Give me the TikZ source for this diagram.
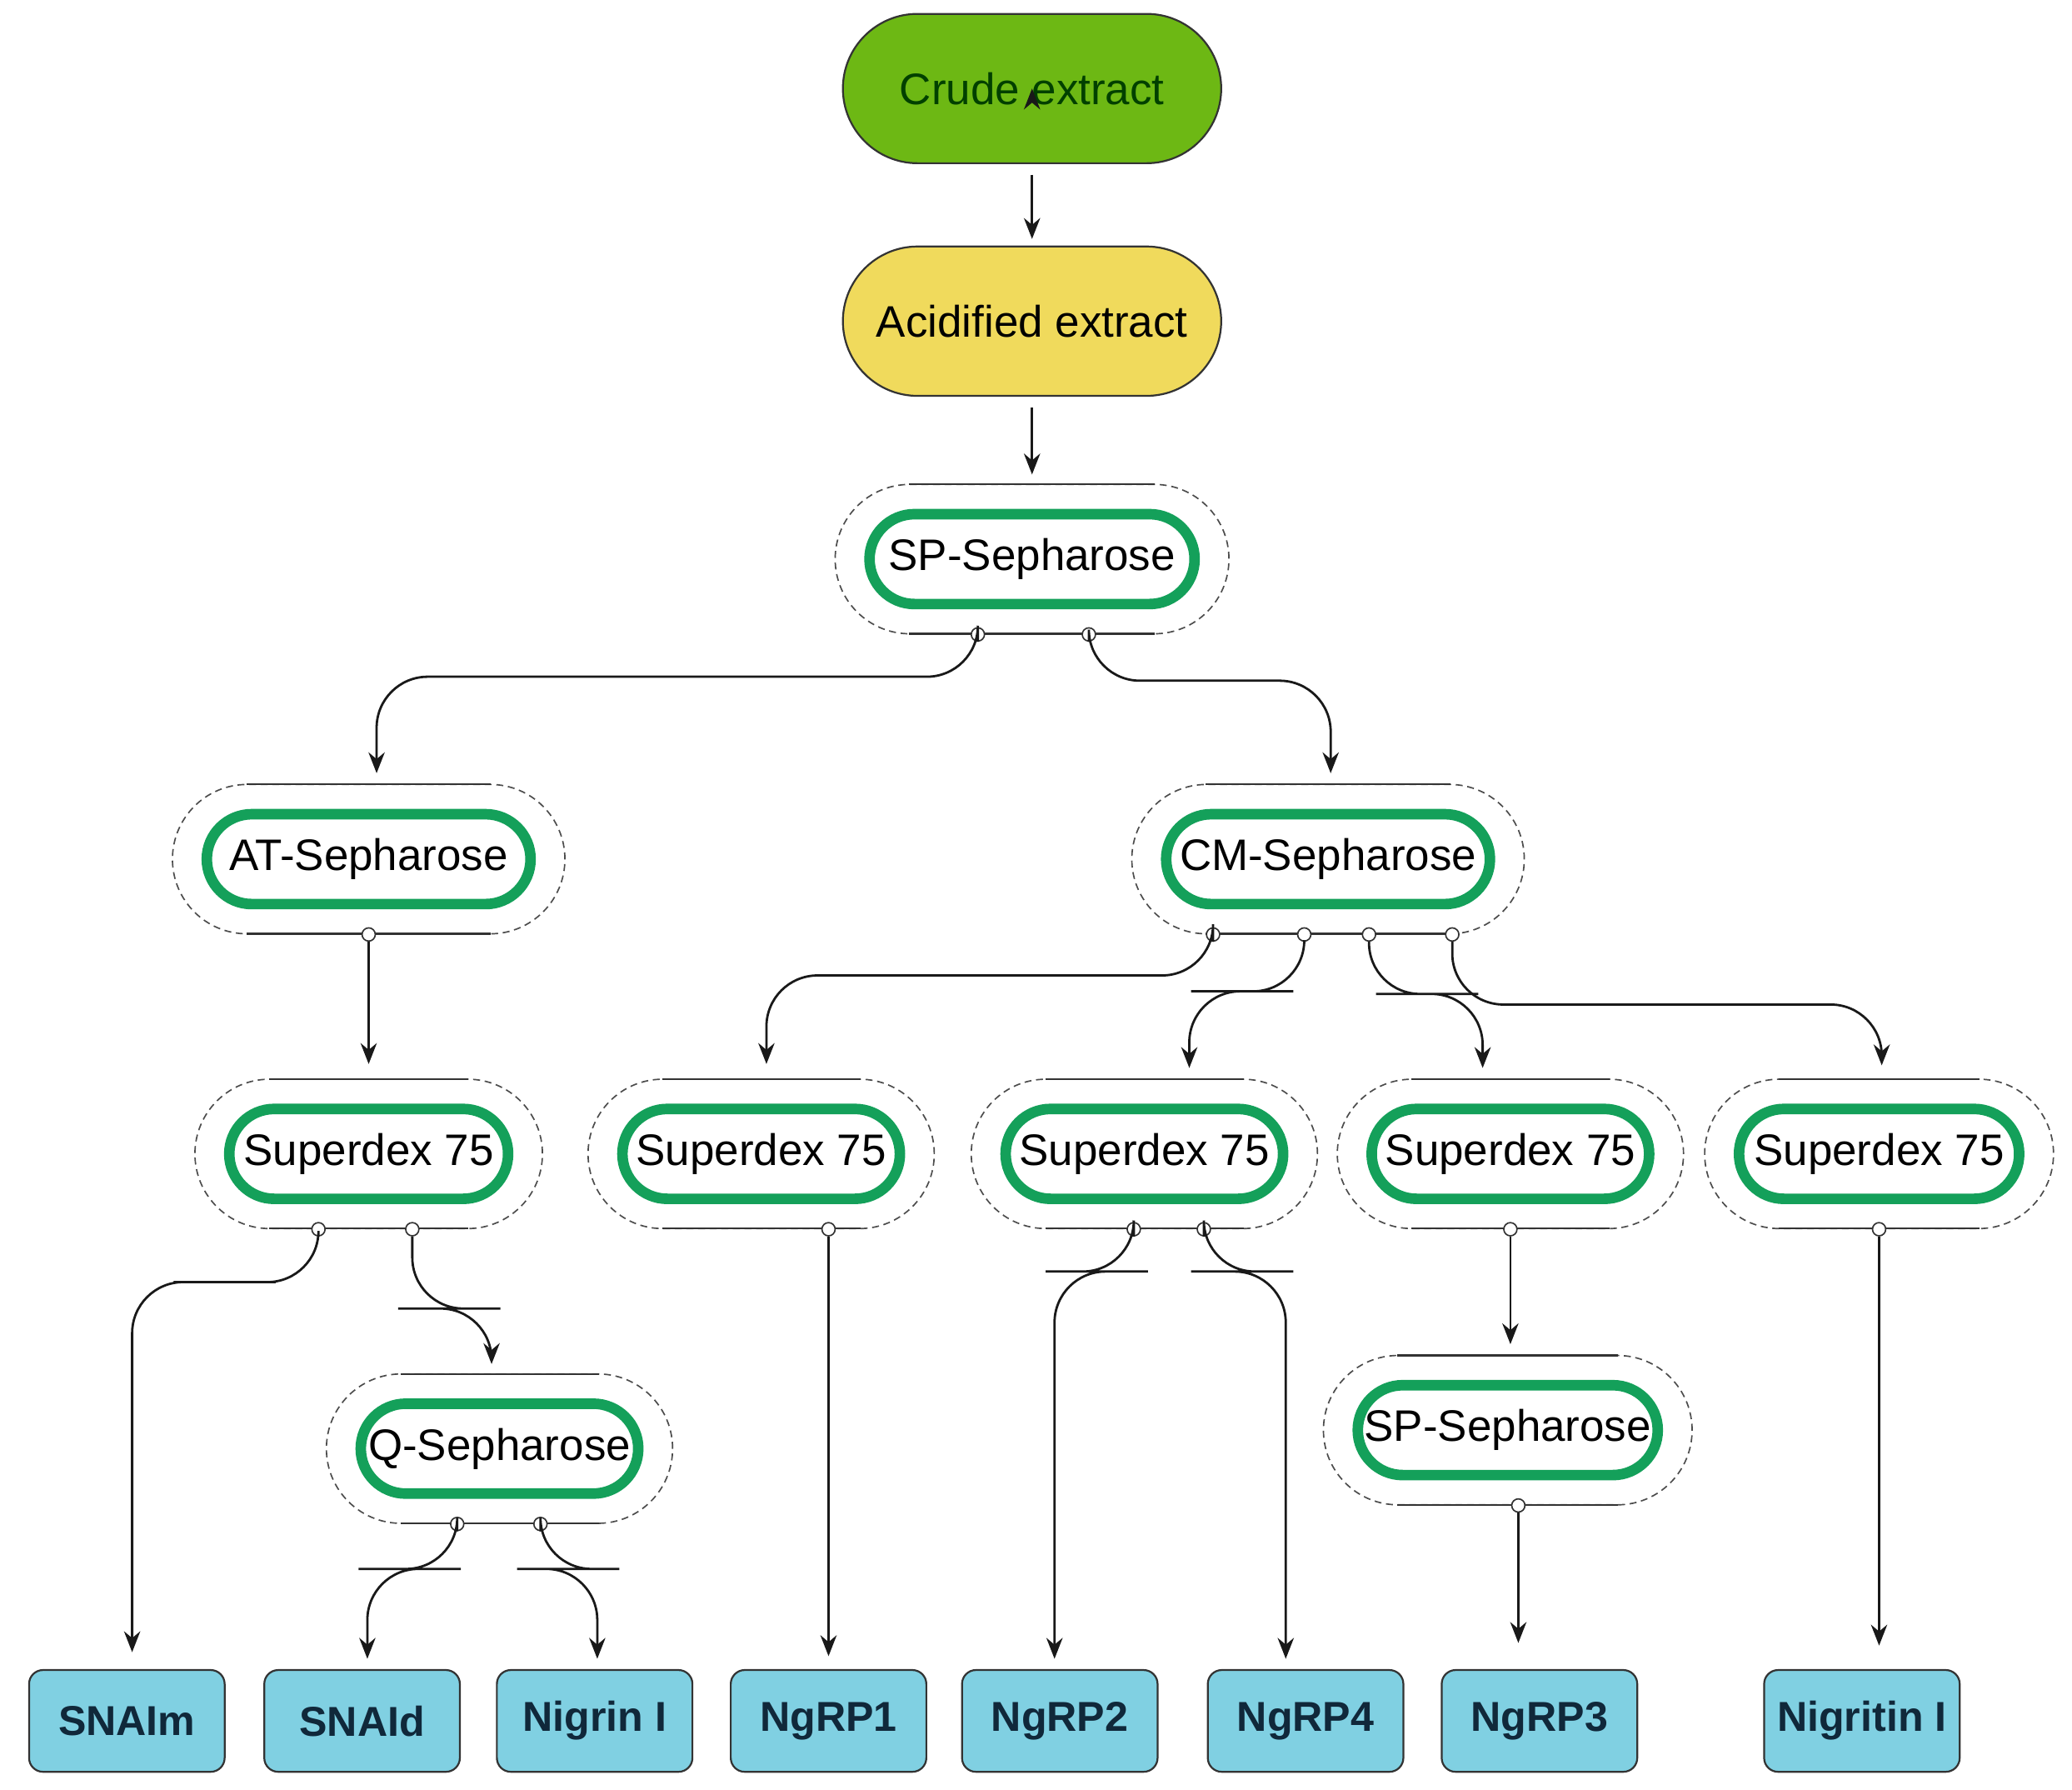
\documentclass[tikz,border=0pt]{standalone}
\usepackage{fontspec}
\setmainfont{Liberation Sans}
\usetikzlibrary{shapes.misc,arrows.meta}
\definecolor{crude}{HTML}{6DB814}
\definecolor{acid}{HTML}{F0DA5C}
\definecolor{ring}{HTML}{14A05A}
\definecolor{prod}{HTML}{80D0E2}
\definecolor{prodtxt}{HTML}{10283A}
\tikzset{
 top/.style={rounded rectangle,draw=black!80,line width=0.8pt,minimum width=298*0.02cm,minimum height=113*0.02cm,font=\fontsize{19}{21}\selectfont},
 outer/.style={rounded rectangle,draw=black!70,densely dashed,line width=0.6pt,minimum height=113*0.02cm,inner sep=0pt},
 inner/.style={rounded rectangle,draw=ring,line width=8*0.02cm,minimum height=68*0.02cm,inner sep=0pt,font=\fontsize{19}{21}\selectfont},
 port/.style={circle,draw=black!80,fill=white,line width=0.6pt,minimum size=10*0.02cm,inner sep=0pt},
 prodbox/.style={rectangle,rounded corners=6pt,draw=black!80,line width=0.8pt,fill=prod,minimum width=148*0.02cm,minimum height=77*0.02cm,font=\fontsize{18}{20}\selectfont\bfseries,text=prodtxt},
 arr/.style={-{Stealth[length=9pt,width=7pt]},line width=1pt,black!90,rounded corners=22pt},
}
\newcommand\colnode[5]{%
 \node[outer,minimum width=#5*0.02cm] (#1) at (#2,#3) {};
 \draw[line width=0.8pt,black!80] (#2-#5/2+56,#3-56.5) -- (#2+#5/2-56,#3-56.5) (#2-#5/2+56,#3+56.5) -- (#2+#5/2-56,#3+56.5);
 \node[inner,minimum width=(#5-52)*0.02cm] (#1i) at (#2,#3) {#4};}
\begin{document}
\begin{tikzpicture}[x=0.02cm,y=-0.02cm]
\useasboundingbox (0,0) rectangle (1568,1354);
\node[top,fill=crude,text=black!75!green] (crude) at (781,67) {Crude extract};
\node[top,fill=acid] (acid) at (781,243) {Acidified extract};
\colnode{sp}{781}{423}{SP-Sepharose}{298}
\colnode{at}{279}{650}{AT-Sepharose}{297}
\colnode{cm}{1005}{650}{CM-Sepharose}{297}
\colnode{sa}{279}{873}{Superdex 75}{263}
\colnode{sb}{576}{873}{Superdex 75}{262}
\colnode{sc}{866}{873}{Superdex 75}{262}
\colnode{sd}{1143}{873}{Superdex 75}{262}
\colnode{se}{1422}{873}{Superdex 75}{264}
\colnode{q}{378}{1096}{Q-Sepharose}{262}
\colnode{spb}{1141}{1082}{SP-Sepharose}{279}
% ports
\foreach \n/\x/\y in {p1/740/480,p2/824/480,p3/279/707,p4/918/707,p5/987/707,p6/1036/707,p7/1099/707,
 p8/241/930,p9/312/930,p10/627/930,p11/858/930,p12/911/930,p13/1143/930,p14/1422/930,
 p15/346/1153,p16/409/1153,p17/1149/1139}
 \node[port] (\n) at (\x,\y) {};
% products
\node[prodbox] (snaim) at (96,1302) {SNAIm};
\node[prodbox] (snaid) at (274,1302) {SNAId};
\node[prodbox] (nig) at (450,1302) {Nigrin I};
\node[prodbox] (ng1) at (627,1302) {NgRP1};
\node[prodbox] (ng2) at (802,1302) {NgRP2};
\node[prodbox] (ng4) at (988,1302) {NgRP4};
\node[prodbox] (ng3) at (1165,1302) {NgRP3};
\node[prodbox] (nit) at (1409,1302) {Nigritin I};
% targets (arrow end points)
\coordinate (t1) at (285,585); \coordinate (t2) at (1007,585);
\coordinate (t3) at (279,805); \coordinate (t4) at (580,805); \coordinate (t5) at (900,808);
\coordinate (t6) at (1122,808); \coordinate (t7) at (1424,806);
\coordinate (t8) at (100,1250); \coordinate (t9) at (372,1032); \coordinate (t10) at (627,1253);
\coordinate (t11) at (798,1255); \coordinate (t12) at (973,1255); \coordinate (t13) at (1143,1017);
\coordinate (t14) at (1422,1245); \coordinate (t15) at (278,1255); \coordinate (t16) at (452,1255);
\coordinate (t17) at (1149,1243);
\draw[arr] (crude.south) ++(0,8) coordinate (c0) (crude) ++(0,0);
\draw[arr] ([yshift=-0.16cm]crude.south) -- ([yshift=0.1cm]acid.north);
\draw[arr] ([yshift=-0.16cm]acid.south) -- ([yshift=0.14cm]sp.north);
\draw[arr] (p1.south) |- (500,512) -| (t1);
\draw[arr] (p2.south) |- (900,515) -| (t2);
\draw[arr] (p3.south) -- (t3);
\draw[arr] (p4.south) |- (700,738) -| (t4);
\draw[arr] (p5.south) |- (940,750) -| (t5);
\draw[arr] (p6.south) |- (1080,752) -| (t6);
\draw[arr] (p7.south) |- (1250,760) -| (t7);
\draw[arr] (p8.south) |- (170,970) -| (t8);
\draw[arr] (p9.south) |- (340,990) -| (t9);
\draw[arr] (p10.south) -- (t10);
\draw[arr] (p11.south) |- (830,962) -| (t11);
\draw[arr] (p12.south) |- (940,962) -| (t12);
\draw[arr] (p13.south) -- (t13);
\draw[arr] (p14.south) -- (t14);
\draw[arr] (p15.south) |- (310,1187) -| (t15);
\draw[arr] (p16.south) |- (430,1187) -| (t16);
\draw[arr] (p17.south) -- (t17);
\end{tikzpicture}
\end{document}
